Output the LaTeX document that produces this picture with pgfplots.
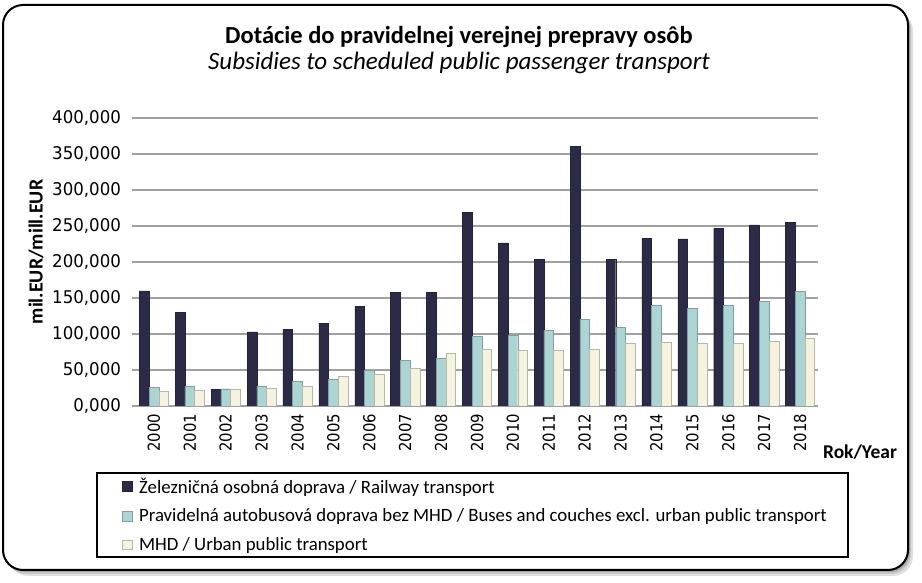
\documentclass[border=0pt]{standalone}
\usepackage{pgfplots}
\pgfplotsset{compat=1.18}
\usepackage{fontspec}
\setmainfont{Carlito}
\newfontfamily\tickfont[FakeStretch=0.9]{DejaVu Sans}
\newfontfamily\ytickfont[FakeStretch=0.95]{DejaVu Sans}
\definecolor{rail}{HTML}{2B2B48}
\definecolor{bus}{HTML}{ACD4D3}
\definecolor{mhd}{HTML}{F5F3E0}
\definecolor{gridc}{HTML}{A0A0A0}
\begin{document}
\begin{tikzpicture}[x=1pt,y=1pt]
\path[use as bounding box] (0,0) rectangle (922,583);
% frame shadow
\fill[black!12, rounded corners=20pt] (8,7) rectangle (913,572);
\fill[black!22, rounded corners=20pt] (6,9) rectangle (911,574);
\fill[black!35, rounded corners=20pt] (5,11) rectangle (910,576);
\filldraw[fill=white, draw=black, line width=2pt, rounded corners=20pt] (3,13) rectangle (908,578);
% titles
\node[anchor=base, font=\fontsize{24.5}{28}\selectfont\bfseries, inner sep=0] at (459,539) {Dotácie do pravidelnej verejnej prepravy osôb};
\node[anchor=base, font=\fontsize{25}{29}\selectfont\itshape, inner sep=0] at (459,513) {Subsidies to scheduled public passenger transport};
\node[rotate=90, font=\fontsize{20}{24}\selectfont\bfseries, inner sep=0] at (36,331) {mil.EUR/mill.EUR};
\node[anchor=base, font=\fontsize{19.5}{23}\selectfont\bfseries, inner sep=0] at (860,124.5) {Rok/Year};
% legend box
\draw[line width=1.6pt] (97,110) rectangle (848,26);
\begin{axis}[
  at={(136pt,177pt)}, anchor=south west,
  scale only axis, width=682pt, height=288pt,
  ybar=0pt, bar width=9.7pt,
  xmin=-0.5, xmax=18.5, ymin=0, ymax=400,
  axis x line*=bottom, axis y line*=left,
  x axis line style={draw=gridc, line width=1.5pt},
  y axis line style={draw=none},
  xtick={0,...,18},
  xticklabels={2000,2001,2002,2003,2004,2005,2006,2007,2008,2009,2010,2011,2012,2013,2014,2015,2016,2017,2018},
  xtick style={draw=none},
  extra x ticks={-0.5,0.5,...,18.5},
  extra x tick labels={},
  extra x tick style={grid=none, tick style={draw=gridc, line width=1.2pt}},
  ytick={0,50,...,400},
  yticklabels={{0,000},{50,000},{100,000},{150,000},{200,000},{250,000},{300,000},{350,000},{400,000}},
  ytick style={draw=gridc, line width=1.2pt},
  tick align=outside, major tick length=4.5pt,
  ymajorgrids, major grid style={draw=gridc, line width=1.3pt},
  xticklabel style={rotate=90, anchor=east, font=\tickfont\fontsize{16.5}{18}\selectfont},
  yticklabel style={font=\ytickfont\fontsize{17.5}{19}\selectfont, xshift=-7pt},
  /pgf/number format/assume math mode=true,
  legend style={draw=none, fill=none, at={(-0.0205,-0.242)}, anchor=north west,
    font=\fontsize{18.8}{22}\selectfont, row sep=10pt, inner sep=0pt,
    /tikz/every odd column/.style={column sep=5pt}},
  legend cell align=left,
  legend image code/.code={\fill[#1] (0pt,-4.8pt) rectangle (9.5pt,4.8pt);},
]
\addplot[fill=rail, draw=rail!80!black, line width=0.4pt] coordinates {
(0,160) (1,129.6) (2,23) (3,102.8) (4,106.5) (5,114.8) (6,138) (7,158.3) (8,158.3) (9,268.5)
(10,226.4) (11,203.2) (12,360.2) (13,203.2) (14,233.3) (15,232) (16,246.8) (17,251.4) (18,254.6)};
\addplot[fill=bus, draw=bus!75!black, line width=0.4pt] coordinates {
(0,25.5) (1,27.3) (2,24) (3,27.8) (4,34.7) (5,36.6) (6,50) (7,63) (8,67) (9,96.3)
(10,98.1) (11,105) (12,120.8) (13,109.3) (14,139.4) (15,135.2) (16,139.4) (17,144.9) (18,158.8)};
\addplot[fill=mhd, draw=mhd!75!black, line width=0.4pt] coordinates {
(0,20) (1,21.3) (2,23) (3,25) (4,26.9) (5,40.7) (6,44.4) (7,52.3) (8,73.6) (9,78.2)
(10,77.3) (11,77.8) (12,78.2) (13,86.6) (14,88.4) (15,87.5) (16,86.6) (17,89.8) (18,94.4)};
\legend{Železničná osobná doprava / Railway transport,
Pravidelná autobusová doprava bez MHD / Buses and couches excl. urban public transport,
MHD / Urban public transport}
\end{axis}
\end{tikzpicture}
\end{document}
